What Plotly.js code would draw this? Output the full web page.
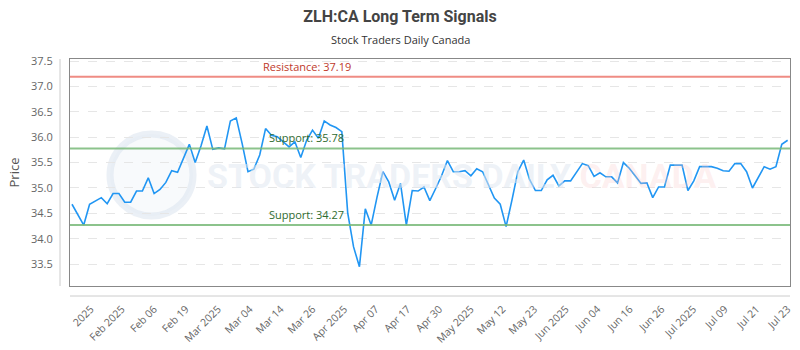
<!DOCTYPE html>
<html><head><meta charset="utf-8">
<script src="https://cdn.plot.ly/plotly-3.0.1.min.js"></script>
<style>html,body{margin:0;padding:0;background:#fff}#chart{width:800px;height:350px}</style>
</head><body><div id="chart"></div>
<script>
// Closing prices, one per trading session (Jan 2025 – Jul 23 2025)
const prices = [
  34.68, 34.48, 34.27, 34.68, 34.74, 34.81, 34.69, 34.89, 34.89, 34.72,
  34.72, 34.94, 34.94, 35.20, 34.89, 34.97, 35.11, 35.34, 35.31, 35.60,
  35.86, 35.50, 35.83, 36.22, 35.76, 35.79, 35.77, 36.32, 36.38, 35.88,
  35.32, 35.37, 35.65, 36.17, 36.04, 36.01, 35.91, 35.81, 35.91, 35.60,
  35.94, 36.14, 35.98, 36.32, 36.24, 36.19, 36.11, 34.51, 33.84, 33.45,
  34.59, 34.27, 34.82, 35.32, 35.12, 34.76, 35.09, 34.27, 34.95, 34.94,
  35.02, 34.75, 34.99, 35.24, 35.54, 35.32, 35.32, 35.34, 35.24, 35.38,
  35.32, 35.05, 34.80, 34.68, 34.24, 34.76, 35.32, 35.55, 35.17, 34.95,
  34.95, 35.16, 35.25, 35.04, 35.14, 35.14, 35.30, 35.48, 35.44, 35.23,
  35.30, 35.22, 35.22, 35.10, 35.50, 35.39, 35.24, 35.09, 35.10, 34.81,
  35.02, 35.02, 35.45, 35.45, 35.45, 34.95, 35.14, 35.42, 35.42, 35.42,
  35.39, 35.34, 35.33, 35.48, 35.48, 35.32, 35.00, 35.21, 35.42, 35.37,
  35.42, 35.86, 35.94
];
const sessions = prices.map((_, i) => i);

// Date tick labels and the session positions they sit at
const tickLabels = ["2025", "Feb 2025", "Feb 06", "Feb 19", "Mar 2025", "Mar 04", "Mar 14", "Mar 26",
  "Apr 2025", "Apr 07", "Apr 17", "Apr 30", "May 2025", "May 12", "May 23", "Jun 2025",
  "Jun 04", "Jun 16", "Jun 26", "Jul 2025", "Jul 09", "Jul 21", "Jul 23"];
const tickPositions = [3.2, 8.5, 14.0, 19.4, 24.9, 30.3, 35.6, 41.0,
  46.4, 51.8, 57.2, 62.6, 68.0, 73.4, 78.8, 84.2,
  89.6, 95.1, 100.5, 105.9, 111.3, 116.7, 122];

const resistanceLevel = 37.19;
const supportLevels = [35.78, 34.27];

const labelX = 0.3285;
const shapes = [];
const annotations = [];

// watermark
shapes.push({type: 'circle', xref: 'paper', yref: 'paper', layer: 'below',
  x0: (110 - 70) / 720, x1: (193 - 70) / 720, y0: (286 - 216) / 227, y1: (286 - 134) / 227,
  line: {color: 'rgba(215,225,238,0.5)', width: 7}, fillcolor: 'rgba(232,238,246,0.3)'});
annotations.push({xref: 'paper', yref: 'paper', x: (205 - 70) / 720, y: (286 - 176) / 227,
  text: "STOCK TRADERS DAILY <span style='color:rgba(250,205,205,0.55)'>CANADA</span>",
  showarrow: false, xanchor: 'left', yanchor: 'middle',
  font: {family: 'Roboto', size: 34, color: 'rgba(224,231,241,0.55)', weight: 'bold'}});

// resistance
shapes.push({type: 'line', xref: 'paper', yref: 'y', x0: 0, x1: 1, y0: resistanceLevel, y1: resistanceLevel,
  line: {color: 'rgba(236,120,110,0.85)', width: 2}});
annotations.push({xref: 'paper', yref: 'y', x: labelX, y: resistanceLevel, yshift: 1,
  text: 'Resistance: ' + resistanceLevel.toFixed(2), showarrow: false, xanchor: 'center', yanchor: 'bottom',
  font: {family: 'Open Sans', size: 11, color: '#c0392b'}});
// supports
supportLevels.forEach(v => {
  shapes.push({type: 'line', xref: 'paper', yref: 'y', x0: 0, x1: 1, y0: v, y1: v,
    line: {color: 'rgba(120,185,120,0.85)', width: 2}});
  annotations.push({xref: 'paper', yref: 'y', x: labelX, y: v, yshift: 1,
    text: 'Support: ' + v.toFixed(2), showarrow: false, xanchor: 'center', yanchor: 'bottom',
    font: {family: 'Open Sans', size: 11, color: '#2f6b2f'}});
});
// detached axis lines
shapes.push({type: 'line', xref: 'paper', yref: 'paper', x0: -10 / 720, x1: -10 / 720, y0: 0, y1: 1,
  line: {color: '#cccccc', width: 1}});
shapes.push({type: 'line', xref: 'paper', yref: 'paper', x0: 0, x1: 1, y0: -10 / 227, y1: -10 / 227,
  line: {color: '#cccccc', width: 1}});

const trace = {
  x: sessions, y: prices, type: 'scatter', mode: 'lines',
  line: {color: '#2196f3', width: 1.6}, hoverinfo: 'skip'
};

const layout = {
  width: 800, height: 350,
  margin: {l: 70, r: 10, t: 59, b: 64},
  paper_bgcolor: '#fff', plot_bgcolor: '#fff',
  showlegend: false,
  title: {text: 'ZLH:CA Long Term Signals', x: 0.5, xanchor: 'center', y: 1 - 16 / 350, yanchor: 'middle',
    font: {family: 'Roboto', size: 16, color: '#444', weight: 'bold'}},
  xaxis: {
    range: [-0.34, 122.4], tickmode: 'array', tickvals: tickPositions, ticktext: tickLabels,
    tickangle: -45, ticks: 'outside', ticklen: 12, tickcolor: 'rgba(0,0,0,0)',
    tickfont: {family: 'Open Sans', size: 10.5, color: '#666'},
    showgrid: false, zeroline: false, showline: true, mirror: true, linecolor: '#888', linewidth: 1
  },
  yaxis: {
    range: [33.07, 37.54], tickmode: 'linear', tick0: 33.5, dtick: 0.5, tickformat: '.1f',
    ticks: 'outside', ticklen: 14, tickcolor: 'rgba(0,0,0,0)',
    tickfont: {family: 'Open Sans', size: 11, color: '#666'},
    showgrid: true, gridcolor: '#e6e6e6', griddash: 'dash', gridwidth: 1,
    zeroline: false, showline: true, mirror: true, linecolor: '#888', linewidth: 1,
    title: {text: 'Price', font: {family: 'Open Sans', size: 13, color: '#555'}, standoff: 8}
  },
  shapes: shapes,
  annotations: annotations.concat([{
    xref: 'paper', yref: 'paper', x: (400 - 70) / 720, xanchor: 'center', y: 1 + (59 - 39) / 227, yanchor: 'middle',
    text: 'Stock Traders Daily Canada', showarrow: false,
    font: {family: 'Open Sans', size: 11, color: '#333'}
  }])
};

Plotly.newPlot('chart', [trace], layout, {displayModeBar: false, staticPlot: true});
</script>
</body></html>
